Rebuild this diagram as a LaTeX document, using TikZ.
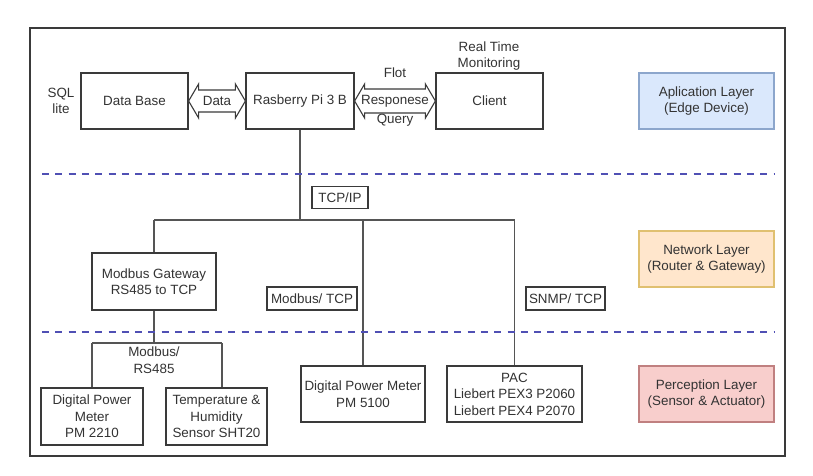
\documentclass[tikz,border=0pt]{standalone}
\usepackage{fontspec}
\setmainfont{Liberation Sans}
\usetikzlibrary{calc}
\definecolor{txt}{HTML}{333333}
\definecolor{edge}{HTML}{3A3A3A}
\definecolor{wire}{HTML}{555555}
\definecolor{dashc}{RGB}{80,80,180}
\definecolor{appfill}{HTML}{DAE8FC}
\definecolor{appdraw}{HTML}{8CA6CC}
\definecolor{netfill}{HTML}{FFE6CC}
\definecolor{netdraw}{HTML}{E0C070}
\definecolor{perfill}{HTML}{F8CECC}
\definecolor{perdraw}{HTML}{C08080}
\begin{document}
\begin{tikzpicture}[x=1pt,y=-1pt,
  every node/.style={font=\fontsize{13.4}{16.5}\selectfont, text=txt, align=center, inner sep=0pt},
  box/.style={draw=edge, line width=1.2pt, fill=white},
  lbl/.style={draw=edge, line width=1.1pt, fill=white},
  wirec/.style={draw=wire, line width=1.2pt},
  layer/.style={dashc, line width=2pt, dash pattern=on 7pt off 6.3pt},
  darrow/.style={draw=edge, line width=1.1pt, fill=white, line join=miter}]
\useasboundingbox (0,0) rectangle (813,475);
\draw[edge, line width=1.2pt] (30,28) rectangle (785,456);

% application layer
\node[box, minimum width=107pt, minimum height=56pt] (db) at (134.5,101) {Data Base};
\node[box, minimum width=108pt, minimum height=56pt] (pi) at (300,101) {Rasberry Pi 3 B};
\node[box, minimum width=107pt, minimum height=56pt] (client) at (489.5,101) {Client};
\node[draw=appdraw, line width=1.2pt, fill=appfill, minimum width=135pt, minimum height=56pt] (app) at (706.5,101) {Aplication Layer\\(Edge Device)};
\node (sql) at (61,101) {SQL\\lite};
\node (rtm) at (489,56) {Real Time\\Monitoring};

% Data double arrow
\draw[darrow] (db.east) -- ($(db.east)+(10,-17)$) -- ($(db.east)+(10,-11)$)
  -- ($(pi.west)+(-10,-11)$) -- ($(pi.west)+(-10,-17)$) -- (pi.west)
  -- ($(pi.west)+(-10,17)$) -- ($(pi.west)+(-10,11)$)
  -- ($(db.east)+(10,11)$) -- ($(db.east)+(10,17)$) -- cycle;
\node (data) at (217,101) {Data};

% Flot double arrow
\draw[darrow] (pi.east) -- ($(pi.east)+(10,-17)$) -- ($(pi.east)+(10,-12)$)
  -- ($(client.west)+(-10,-12)$) -- ($(client.west)+(-10,-17)$) -- (client.west)
  -- ($(client.west)+(-10,17)$) -- ($(client.west)+(-10,12)$)
  -- ($(pi.east)+(10,12)$) -- ($(pi.east)+(10,17)$) -- cycle;
\node (flot) at (395,73) {Flot};
\node (resp) at (395,101) {Responese};
\node (query) at (395,120) {Query};

% layer separators
\coordinate (d1l) at (42,174); \coordinate (d1r) at (774,174);
\coordinate (d2l) at (42,332); \coordinate (d2r) at (774,332);

% network layer
\coordinate (bus) at (301,220);
\node[box, minimum width=124pt, minimum height=57pt] (gw) at (154,281.5) {Modbus Gateway\\RS485 to TCP};
\node[lbl, minimum width=90pt, minimum height=23pt] (mtcp) at (312,298.5) {Modbus/ TCP};
\node[lbl, minimum width=79pt, minimum height=23pt] (snmp) at (565.5,298.5) {SNMP/ TCP};
\node[draw=netdraw, line width=1.2pt, fill=netfill, minimum width=135pt, minimum height=56pt] (net) at (706.5,259) {Network Layer\\(Router \& Gateway)};

% perception layer
\node[box, minimum width=124pt, minimum height=56pt] (pm5100) at (363,394) {Digital Power Meter\\PM 5100};
\node[box, minimum width=135pt, minimum height=56pt] (pac) at (514.5,394) {PAC\\Liebert PEX3 P2060\\Liebert PEX4 P2070};
\node[draw=perdraw, line width=1.2pt, fill=perfill, minimum width=135pt, minimum height=56pt] (perc) at (706.5,394) {Perception Layer\\(Sensor \& Actuator)};
\node[box, minimum width=102pt, minimum height=57pt] (pm2210) at (92,416.5) {Digital Power\\Meter\\PM 2210};
\node[box, minimum width=101pt, minimum height=57pt] (temp) at (216.5,416.5) {Temperature \&\\Humidity\\Sensor SHT20};
\coordinate (rsl) at (92,343); \coordinate (rsr) at (222,343);

% connectors
\draw[wirec] (pi.south) -- (pi.south |- bus);
\draw[wirec] (gw.north |- bus) -- (pac.north |- bus);
\draw[wirec] (gw.north |- bus) -- (gw.north);
\draw[wirec] (pm5100.north |- bus) -- (pm5100.north);
\draw[wirec] (pac.north |- bus) -- (pac.north);
\draw[wirec] (gw.south) -- (gw.south |- rsl);
\draw[wirec] (rsl) -- (rsr);
\draw[wirec] (rsl) -- (pm2210.north);
\draw[wirec] (rsr) -- (rsr |- temp.north);
\node[lbl, minimum width=56pt, minimum height=22pt] (tcpip) at (340,197.5) {TCP/IP};
\node (rs) at (154,360) {Modbus/\\RS485};

\draw[layer] (d1l) -- (d1r);
\draw[layer] (d2l) -- (d2r);
\end{tikzpicture}
\end{document}
